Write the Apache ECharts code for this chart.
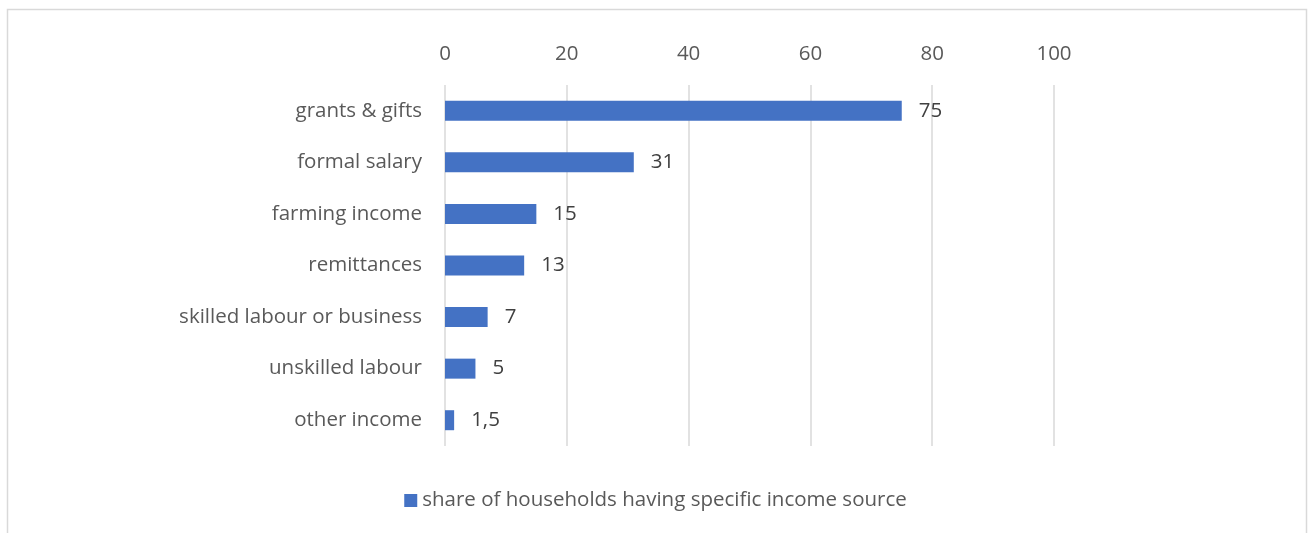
<!DOCTYPE html>
<html>
<head>
<meta charset="utf-8">
<script src="https://cdn.jsdelivr.net/npm/echarts@6/dist/echarts.min.js"></script>
<style>
  html, body { margin: 0; padding: 0; background: #ffffff; }
  #chart { width: 1311px; height: 533px; }
</style>
</head>
<body>
<div id="chart"></div>
<script>
// Income sources, listed top to bottom
const categories = [
  'grants & gifts',
  'formal salary',
  'farming income',
  'remittances',
  'skilled labour or business',
  'unskilled labour',
  'other income'
];
// Share of households (%) with each source
const shares = [75, 31, 15, 13, 7, 5, 1.5];
const seriesName = 'share of households having specific income source';
const xTicks = [0, 20, 40, 60, 80, 100];

const FONT = 'Open Sans';
const SIZE = 20.5;
const TEXT = '#595959';

const chart = echarts.init(document.getElementById('chart'), null, { renderer: 'canvas' });

chart.setOption({
  animation: false,
  backgroundColor: '#ffffff',
  textStyle: { fontFamily: FONT },
  graphic: [{
    type: 'rect',
    shape: { x: 7.5, y: 9.5, width: 1299, height: 540 },
    style: { fill: 'none', stroke: '#d9d9d9', lineWidth: 1.5 },
    silent: true
  }],
  legend: {
    data: [seriesName],
    bottom: 17,
    left: 'center',
    icon: 'rect',
    itemWidth: 13,
    itemHeight: 13,
    itemGap: 7,
    textStyle: { color: TEXT, fontSize: SIZE, fontFamily: FONT }
  },
  grid: { left: 445, right: 257, top: 85, height: 361, containLabel: false },
  xAxis: {
    type: 'value',
    position: 'top',
    min: xTicks[0],
    max: xTicks[xTicks.length - 1],
    interval: 20,
    axisLine: { show: false },
    axisTick: { show: false },
    axisLabel: { color: TEXT, fontSize: SIZE, fontFamily: FONT, margin: 20 },
    splitLine: { show: true, lineStyle: { color: '#d9d9d9', width: 1.5 } }
  },
  yAxis: {
    type: 'category',
    inverse: true,
    data: categories,
    axisLine: { show: false },
    axisTick: { show: false },
    axisLabel: { color: TEXT, fontSize: SIZE, fontFamily: FONT, margin: 23 }
  },
  series: [{
    name: seriesName,
    type: 'bar',
    data: shares,
    barWidth: 20,
    itemStyle: { color: '#4472c4' },
    label: {
      show: true,
      position: 'right',
      distance: 17,
      color: '#404040',
      fontSize: SIZE,
      fontFamily: FONT,
      formatter: p => String(p.value).replace('.', ',')
    }
  }]
});
</script>
</body>
</html>
